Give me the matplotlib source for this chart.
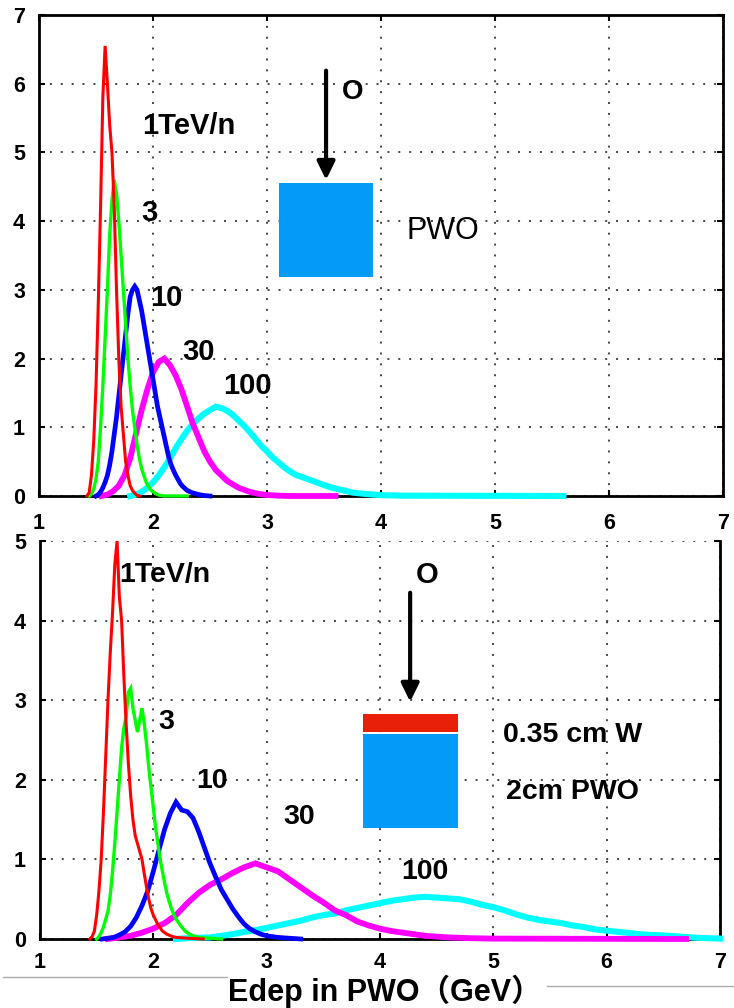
import numpy as np
import matplotlib
matplotlib.use("Agg")
import matplotlib.pyplot as plt
from matplotlib.patches import Rectangle
from matplotlib.lines import Line2D

plt.rcParams['font.family'] = ['Liberation Sans', 'Noto Sans CJK SC', 'DejaVu Sans']

# ---------------- data: energy deposit spectra (GeV vs. counts, arb. units) ----------------
# Upper panel: 2 cm PWO only
top_e_1tev = [1.42, 1.44, 1.46, 1.48, 1.50, 1.52, 1.54, 1.56, 1.58, 1.60, 1.62, 1.64,
              1.66, 1.68, 1.70, 1.72, 1.74, 1.76, 1.78, 1.80, 1.82, 1.84, 1.86, 1.88]
top_n_1tev = [0, 0.05, 0.3, 0.8, 1.6, 2.8, 4.2, 5.8, 6.55, 6.0, 5.4, 5.0,
              4.2, 3.0, 2.0, 1.3, 0.9, 0.5, 0.3, 0.15, 0.08, 0.04, 0.01, 0]

top_e_3tev = [1.44, 1.46, 1.48, 1.50, 1.52, 1.54, 1.56, 1.58, 1.60, 1.62, 1.64, 1.66,
              1.68, 1.70, 1.72, 1.74, 1.76, 1.78, 1.80, 1.82, 1.84, 1.86, 1.88, 1.90,
              1.92, 1.94, 1.96, 1.98, 2.00, 2.02, 2.04, 2.06, 2.10, 2.30]
top_n_3tev = [0, 0.03, 0.1, 0.25, 0.5, 1.0, 1.6, 2.3, 3.0, 3.8, 4.3, 4.6,
              4.4, 4.0, 3.5, 3.0, 2.5, 2.0, 1.6, 1.25, 1.0, 0.75, 0.55, 0.4,
              0.3, 0.2, 0.14, 0.09, 0.06, 0.04, 0.02, 0.01, 0, 0]

top_e_10tev = [1.50, 1.52, 1.54, 1.56, 1.58, 1.60, 1.62, 1.64, 1.66, 1.68, 1.70, 1.72,
               1.74, 1.76, 1.78, 1.80, 1.82, 1.84, 1.86, 1.88, 1.90, 1.92, 1.94, 1.96,
               1.98, 2.00, 2.02, 2.04, 2.06, 2.08, 2.10, 2.12, 2.14, 2.16, 2.18, 2.20,
               2.22, 2.24, 2.26, 2.28, 2.30, 2.34, 2.38, 2.42, 2.46, 2.50]
top_n_10tev = [0, 0.02, 0.06, 0.12, 0.2, 0.3, 0.45, 0.65, 0.9, 1.15, 1.45, 1.75,
               2.05, 2.35, 2.65, 2.9, 3.0, 3.05, 3.0, 2.85, 2.7, 2.5, 2.3, 2.1,
               1.9, 1.7, 1.5, 1.3, 1.15, 1.0, 0.85, 0.7, 0.55, 0.45, 0.37, 0.3,
               0.24, 0.18, 0.14, 0.11, 0.08, 0.05, 0.03, 0.015, 0.005, 0]

top_e_30tev = [1.55, 1.60, 1.65, 1.70, 1.75, 1.80, 1.85, 1.90, 1.95, 2.00, 2.05, 2.10,
               2.15, 2.20, 2.25, 2.30, 2.35, 2.40, 2.45, 2.50, 2.55, 2.60, 2.65, 2.70,
               2.75, 2.80, 2.85, 2.90, 2.95, 3.00, 3.10, 3.20, 3.60]
top_n_30tev = [0, 0.02, 0.07, 0.15, 0.3, 0.55, 0.9, 1.25, 1.55, 1.8, 1.95, 2.0,
               1.9, 1.75, 1.55, 1.3, 1.05, 0.85, 0.65, 0.5, 0.38, 0.3, 0.22, 0.17,
               0.12, 0.09, 0.06, 0.04, 0.025, 0.015, 0.005, 0, 0]

top_e_100tev = [1.80, 1.85, 1.90, 1.95, 2.00, 2.05, 2.10, 2.15, 2.20, 2.25, 2.30, 2.35,
                2.40, 2.45, 2.50, 2.55, 2.60, 2.65, 2.70, 2.75, 2.80, 2.85, 2.90, 2.95,
                3.00, 3.05, 3.10, 3.15, 3.20, 3.25, 3.30, 3.35, 3.40, 3.45, 3.50, 3.55,
                3.60, 3.65, 3.70, 3.75, 3.80, 3.90, 4.00, 4.20, 5.60]
top_n_100tev = [0, 0.02, 0.06, 0.12, 0.2, 0.3, 0.42, 0.55, 0.7, 0.83, 0.95, 1.05,
                1.13, 1.2, 1.25, 1.3, 1.28, 1.24, 1.18, 1.1, 1.02, 0.93, 0.83, 0.73,
                0.65, 0.56, 0.49, 0.42, 0.36, 0.31, 0.28, 0.25, 0.22, 0.19, 0.16, 0.13,
                0.11, 0.09, 0.07, 0.05, 0.04, 0.025, 0.012, 0.005, 0]

# Lower panel: 0.35 cm W in front of 2 cm PWO
bot_e_1tev = [1.44, 1.46, 1.48, 1.50, 1.52, 1.54, 1.56, 1.58, 1.60, 1.62, 1.64, 1.66,
              1.68, 1.70, 1.72, 1.74, 1.76, 1.78, 1.80, 1.82, 1.84, 1.86, 1.88, 1.90,
              1.92, 1.94, 1.96, 1.98, 2.00, 2.04, 2.08, 2.12, 2.16, 2.20, 2.30, 2.44]
bot_n_1tev = [0, 0.03, 0.1, 0.3, 0.6, 1.0, 1.6, 2.3, 3.0, 3.6, 4.1, 4.7,
              5.0, 4.3, 4.0, 3.3, 2.7, 2.2, 1.8, 1.5, 1.3, 1.2, 1.1, 1.0,
              0.82, 0.65, 0.5, 0.38, 0.3, 0.18, 0.1, 0.06, 0.035, 0.02, 0.01, 0]

bot_e_3tev = [1.50, 1.52, 1.54, 1.56, 1.58, 1.60, 1.62, 1.64, 1.66, 1.68, 1.70, 1.72,
              1.74, 1.76, 1.78, 1.80, 1.82, 1.84, 1.86, 1.88, 1.90, 1.92, 1.94, 1.96,
              1.98, 2.00, 2.02, 2.04, 2.06, 2.08, 2.10, 2.12, 2.14, 2.16, 2.18, 2.20,
              2.24, 2.28, 2.32, 2.36, 2.40, 2.50, 2.60]
bot_n_3tev = [0, 0.03, 0.08, 0.15, 0.25, 0.35, 0.55, 0.85, 1.2, 1.6, 2.0, 2.4,
              2.65, 2.8, 3.1, 3.15, 2.9, 2.75, 2.6, 2.75, 2.9, 2.7, 2.45, 2.15,
              1.9, 1.65, 1.4, 1.2, 1.0, 0.85, 0.7, 0.57, 0.47, 0.38, 0.31, 0.25,
              0.17, 0.1, 0.06, 0.035, 0.02, 0.01, 0]

bot_e_10tev = [1.55, 1.60, 1.65, 1.70, 1.75, 1.80, 1.85, 1.90, 1.95, 2.00, 2.05, 2.10,
               2.15, 2.20, 2.25, 2.30, 2.35, 2.40, 2.45, 2.50, 2.55, 2.60, 2.65, 2.70,
               2.75, 2.80, 2.85, 2.90, 2.95, 3.00, 3.10, 3.20, 3.30]
bot_n_10tev = [0, 0.01, 0.02, 0.05, 0.09, 0.16, 0.27, 0.42, 0.6, 0.85, 1.12, 1.38,
               1.58, 1.72, 1.62, 1.6, 1.52, 1.35, 1.15, 0.95, 0.78, 0.62, 0.5, 0.38,
               0.28, 0.19, 0.13, 0.09, 0.06, 0.04, 0.02, 0.01, 0]

bot_e_30tev = [1.6, 1.7, 1.8, 1.9, 2.0, 2.1, 2.2, 2.3, 2.4, 2.5, 2.6, 2.7,
               2.8, 2.9, 3.0, 3.1, 3.2, 3.3, 3.4, 3.5, 3.6, 3.7, 3.8, 3.9,
               4.0, 4.1, 4.2, 4.3, 4.4, 4.5, 4.6, 4.8, 5.0, 6.7]
bot_n_30tev = [0, 0.02, 0.04, 0.08, 0.13, 0.2, 0.3, 0.45, 0.58, 0.68, 0.75, 0.83,
               0.9, 0.95, 0.9, 0.85, 0.75, 0.65, 0.55, 0.46, 0.36, 0.3, 0.22, 0.17,
               0.13, 0.1, 0.08, 0.06, 0.04, 0.03, 0.02, 0.01, 0.005, 0]

bot_e_100tev = [2.2, 2.3, 2.4, 2.5, 2.6, 2.7, 2.8, 2.9, 3.0, 3.1, 3.2, 3.3,
                3.4, 3.5, 3.6, 3.7, 3.8, 3.9, 4.0, 4.1, 4.2, 4.3, 4.4, 4.5,
                4.6, 4.7, 4.8, 4.9, 5.0, 5.1, 5.2, 5.3, 5.4, 5.5, 5.6, 5.7,
                5.8, 5.9, 6.0, 6.1, 6.2, 6.3, 6.4, 6.5, 6.6, 6.7, 6.8, 6.9, 7.0]
bot_n_100tev = [0, 0.01, 0.015, 0.02, 0.04, 0.06, 0.09, 0.11, 0.14, 0.17, 0.2, 0.23,
                0.27, 0.3, 0.32, 0.36, 0.39, 0.42, 0.45, 0.48, 0.5, 0.52, 0.53, 0.52,
                0.51, 0.5, 0.47, 0.43, 0.4, 0.36, 0.31, 0.27, 0.24, 0.22, 0.2, 0.17,
                0.15, 0.12, 0.105, 0.09, 0.075, 0.06, 0.05, 0.045, 0.035, 0.025, 0.015, 0.01, 0.005]

energy_labels = ["1TeV/n", "3", "10", "30", "100"]
curve_colors = ["#ff0000", "#00ff00", "#0000ff", "#ff00ff", "#00ffff"]
curve_widths = [2.2, 2.4, 3.4, 4.2, 4.4]
x_ticks = [1, 2, 3, 4, 5, 6, 7]

top_series = [(top_e_1tev, top_n_1tev), (top_e_3tev, top_n_3tev), (top_e_10tev, top_n_10tev),
              (top_e_30tev, top_n_30tev), (top_e_100tev, top_n_100tev)]
bot_series = [(bot_e_1tev, bot_n_1tev), (bot_e_3tev, bot_n_3tev), (bot_e_10tev, bot_n_10tev),
              (bot_e_30tev, bot_n_30tev), (bot_e_100tev, bot_n_100tev)]

W, H = 734, 1008
fig = plt.figure(figsize=(W / 100, H / 100), dpi=100)


def px_axes(left, top, right, bottom):
    return fig.add_axes([left / W, 1 - bottom / H, (right - left) / W, (bottom - top) / H])


def style_axes(ax, ymax, top_spine=True, xpad=12):
    ax.set_xlim(1, 7)
    ax.set_ylim(0, ymax)
    ax.set_xticks(x_ticks)
    ax.set_yticks(range(0, ymax + 1))
    ax.grid(True, color="#444444", linestyle=(0, (1, 4.6)), linewidth=1.4)
    ax.set_axisbelow(True)
    for side, sp in ax.spines.items():
        sp.set_linewidth(2.0)
        sp.set_color("black")
    if not top_spine:
        ax.spines["top"].set_visible(False)
    ax.tick_params(direction="in", length=4, width=1.5, top=top_spine, right=True,
                   labelsize=15.5)
    ax.tick_params(axis="x", pad=xpad)
    ax.tick_params(axis="y", pad=10)
    for lab in ax.get_xticklabels() + ax.get_yticklabels():
        lab.set_fontweight("bold")


def draw_curves(ax, series):
    # widest spectra underneath, narrowest on top
    for (e, n), c, lw in reversed(list(zip(series, curve_colors, curve_widths))):
        ax.plot(e, n, color=c, lw=lw, solid_joinstyle="miter", zorder=3, clip_on=False)


def arrow(ax, x, y0, y1):
    ax.annotate("", xy=(x, y1), xytext=(x, y0),
                arrowprops=dict(arrowstyle="-|>,head_length=0.55,head_width=0.27",
                                mutation_scale=20, lw=3, color="black",
                                shrinkA=0, shrinkB=0))


# ---------------- upper panel ----------------
ax1 = px_axes(39, 15, 723, 496)
style_axes(ax1, 7)
draw_curves(ax1, top_series)
lab_kw = dict(fontsize=21, fontweight="bold", ha="center", va="center", zorder=5)
for txt, pos in zip(energy_labels, [(2.31, 5.39), (1.97, 4.12), (2.12, 2.88), (2.40, 2.10), (2.83, 1.60)]):
    ax1.text(pos[0], pos[1], txt, **lab_kw)
ax1.text(3.75, 5.88, "O", fontsize=20, fontweight="bold", ha="center", va="center")
arrow(ax1, 3.518, 6.19, 4.60)
ax1.add_patch(Rectangle((3.105, 3.19), 0.825, 1.365, facecolor="#039bf7", edgecolor="none", zorder=4))
ax1.text(4.545, 3.86, "PWO", fontsize=22, ha="center", va="center")

# ---------------- lower panel ----------------
ax2 = px_axes(40, 541, 720, 939)
style_axes(ax2, 5, top_spine=False, xpad=9)
draw_curves(ax2, bot_series)
lab_kw2 = dict(lab_kw, fontsize=20.5)
for txt, pos in zip(energy_labels, [(2.10, 4.57), (2.11, 2.72), (2.52, 1.99), (3.29, 1.53), (4.40, 0.84)]):
    ax2.text(pos[0], pos[1], txt, **lab_kw2)
ax2.text(4.42, 4.57, "O", fontsize=21, fontweight="bold", ha="center", va="center")
arrow(ax2, 4.266, 4.35, 2.98)
ax2.add_patch(Rectangle((3.851, 2.604), 0.838, 0.226, facecolor="#e8200a", edgecolor="none", zorder=4))
ax2.add_patch(Rectangle((3.851, 1.396), 0.838, 1.183, facecolor="#039bf7", edgecolor="none", zorder=4))
ax2.text(5.70, 2.566, "0.35 cm W", **lab_kw2)
ax2.text(5.70, 1.849, "2cm PWO", **lab_kw2)

# separator rule and shared axis title
fig.add_artist(Line2D([3 / W, 227 / W], [1 - 977 / H, 1 - 977 / H], color="#aaaaaa", lw=1))
fig.add_artist(Line2D([547 / W, 1.0], [1 - 986 / H, 1 - 986 / H], color="#aaaaaa", lw=1))
fig.text(385 / W, 1 - 1001 / H, "Edep in PWO（GeV）", fontsize=22, fontweight="bold",
         ha="center", va="baseline")

fig.savefig("out.png", dpi=100)
